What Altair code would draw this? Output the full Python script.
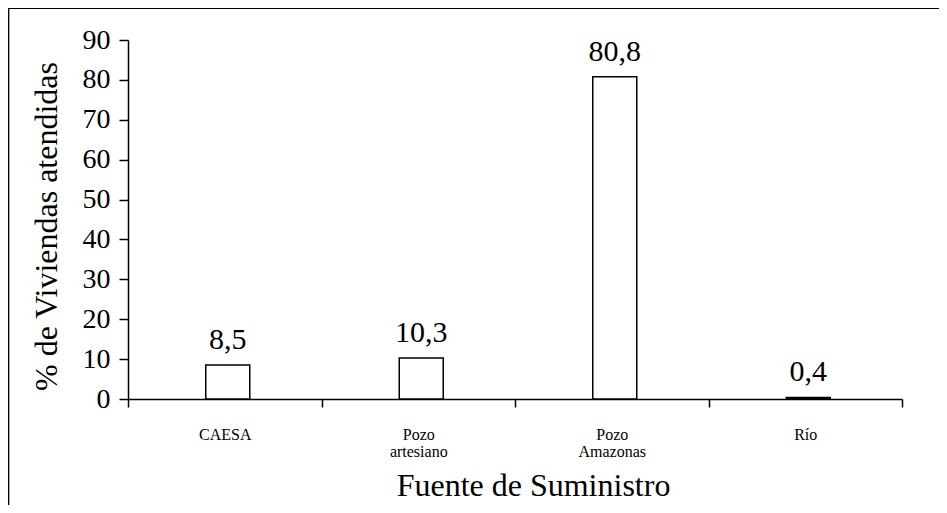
import altair as alt
import pandas as pd

categories = ["CAESA", "Pozo\nartesiano", "Pozo\nAmazonas", "Río"]
values = [8.5, 10.3, 80.8, 0.4]
value_labels = ["8,5", "10,3", "80,8", "0,4"]
y_ticks = [0, 10, 20, 30, 40, 50, 60, 70, 80, 90]

df = pd.DataFrame({"fuente": categories, "pct": values, "lbl": value_labels})

FONT = "Liberation Serif"
W, H = 774, 359
PAD = {"left": 120, "top": 32, "right": 37, "bottom": 106}

x_scale = alt.Scale(domain=categories, paddingInner=0, paddingOuter=0)
y_scale = alt.Scale(domain=[0, 90], nice=False)

x_axis = alt.Axis(
    title="Fuente de Suministro",
    labelAngle=0,
    labelExpr="split(datum.label, '\\n')",
    labelFont=FONT,
    labelFontSize=16,
    labelColor="black",
    labelPadding=19,
    labelLineHeight=17,
    grid=False,
    tickBand="extent",
    tickSize=8,
    tickColor="black",
    tickWidth=1.5,
    domainColor="black",
    domainWidth=1.5,
    titleFont=FONT,
    titleFontSize=32,
    titleFontWeight="normal",
    titleColor="black",
    titlePadding=11,
    titleX=405,
)

y_axis = alt.Axis(
    title="% de Viviendas atendidas",
    values=y_ticks,
    labelOverlap=False,
    grid=False,
    labelFont=FONT,
    labelFontSize=28,
    labelColor="black",
    labelPadding=9,
    tickSize=9,
    tickColor="black",
    tickWidth=1.5,
    domainColor="black",
    domainWidth=1.5,
    titleFont=FONT,
    titleFontSize=32,
    titleFontWeight="normal",
    titleColor="black",
    titlePadding=19,
    titleY=186,
)

x_enc = alt.X("fuente:N", sort=categories, scale=x_scale, axis=x_axis)
y_enc = alt.Y("pct:Q", scale=y_scale, axis=y_axis)

bars = alt.Chart(df).mark_bar(
    size=44, fill="white", stroke="black", strokeWidth=1.5, xOffset=3
).encode(x=x_enc, y=y_enc)

texts = alt.Chart(df).mark_text(
    baseline="alphabetic", dy=-16, dx=3, font=FONT, fontSize=30, color="black"
).encode(x=x_enc, y=y_enc, text="lbl:N")

top_border = alt.Chart(df).mark_rule(color="black", strokeWidth=1.2).encode(
    x=alt.value(-PAD["left"] - 0.5), x2=alt.value(W + PAD["right"]), y=alt.value(-PAD["top"] + 0.5)
)
left_border = alt.Chart(df).mark_rule(color="black", strokeWidth=1.2).encode(
    x=alt.value(-PAD["left"] + 0.5), y=alt.value(-PAD["top"]), y2=alt.value(H + PAD["bottom"])
)

chart = alt.layer(bars, texts, top_border, left_border).properties(
    width=W,
    height=H,
    padding=PAD,
    background="white",
    autosize=alt.AutoSizeParams(type="none"),
).configure_view(strokeWidth=0).configure_axis(grid=False)

chart.save("out.html", embed_options={"renderer": "svg", "actions": False})
